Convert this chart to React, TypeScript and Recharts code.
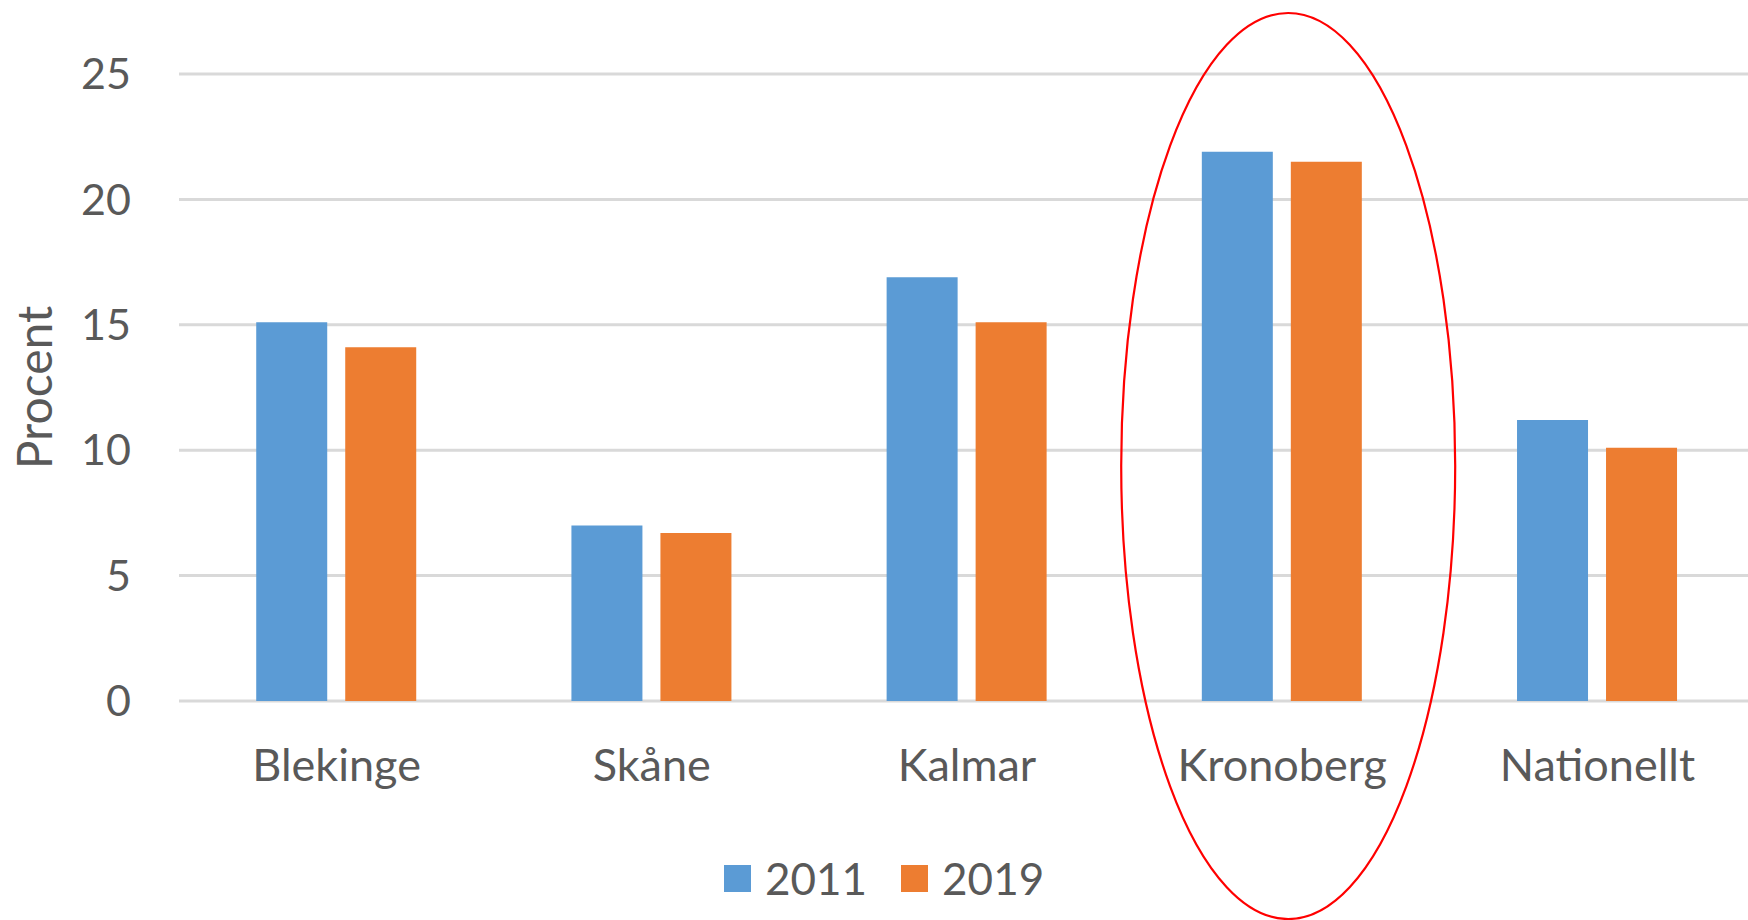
import React from 'react';
import { BarChart, Bar, XAxis, YAxis, CartesianGrid, Legend, ReferenceDot } from 'recharts';

const categories = ['Blekinge', 'Skåne', 'Kalmar', 'Kronoberg', 'Nationellt'];
const values2011 = [15.1, 7.0, 16.9, 21.9, 11.2];
const values2019 = [14.1, 6.7, 15.1, 21.5, 10.1];
const yTicks = [0, 5, 10, 15, 20, 25];
const seriesNames = ['2011', '2019'];
const seriesColors = ['#5B9BD5', '#ED7D31'];
const highlighted = 'Kronoberg';
const highlightCenterValue = 9.37;

const data = categories.map((c, i) => ({ region: c, y2011: values2011[i], y2019: values2019[i] }));

const FONT = 'Lato, "Open Sans", sans-serif';
const TEXT = '#595959';

const LegendContent = () => (
  <div
    style={{
      display: 'flex',
      alignItems: 'center',
      paddingLeft: 724,
      height: 56,
      fontFamily: FONT,
      fontSize: 44,
      color: TEXT,
      lineHeight: 1,
    }}
  >
    {seriesNames.map((n, i) => (
      <div key={n} style={{ display: 'flex', alignItems: 'center', marginRight: 34 }}>
        <div style={{ width: 27, height: 27, background: seriesColors[i], marginRight: 14 }} />
        <span>{n}</span>
      </div>
    ))}
  </div>
);

const EllipseShape = (props: any) => {
  const { cx, cy } = props;
  if (cx == null || cy == null) return null;
  return <ellipse cx={cx + 6} cy={cy} rx={167} ry={453} fill="none" stroke="#FF0000" strokeWidth={2.2} />;
};

const YLabel = (props: any) => {
  const { viewBox } = props;
  const x = viewBox.x + 33;
  const y = viewBox.y + viewBox.height / 2;
  return (
    <text
      x={x}
      y={y}
      transform={`rotate(-90 ${x} ${y})`}
      textAnchor="middle"
      dominantBaseline="central"
      fill={TEXT}
      fontSize={48}
      fontFamily={FONT}
    >
      Procent
    </text>
  );
};

export default function App() {
  return (
    <div
      style={{
        position: 'absolute',
        left: 0,
        top: 0,
        width: 1748,
        height: 920,
        overflow: 'hidden',
        background: '#fff',
        fontFamily: FONT,
      }}
    >
      <BarChart
        width={1755}
        height={920}
        data={data}
        margin={{ top: 74, right: 0, bottom: 0, left: 0 }}
        barCategoryGap="24.5%"
        barGap={18}
      >
        <CartesianGrid vertical={false} stroke="#D9D9D9" strokeWidth={3} />
        <XAxis
          dataKey="region"
          axisLine={false}
          tickLine={false}
          tickSize={0}
          tickMargin={48}
          height={163}
          interval={0}
          tick={{ fill: TEXT, fontSize: 45, fontFamily: FONT }}
        />
        <YAxis
          domain={[0, 25]}
          ticks={yTicks}
          width={179}
          axisLine={false}
          tickLine={false}
          tickSize={0}
          tickMargin={48}
          tick={{ fill: TEXT, fontSize: 43, fontFamily: FONT }}
          label={<YLabel />}
        />
        <Legend
          verticalAlign="bottom"
          content={<LegendContent />}
          wrapperStyle={{ left: 0, top: 850, width: 1748, height: 56 }}
        />
        <Bar dataKey="y2011" name={seriesNames[0]} fill={seriesColors[0]} isAnimationActive={false} />
        <Bar dataKey="y2019" name={seriesNames[1]} fill={seriesColors[1]} isAnimationActive={false} />
        <ReferenceDot
          x={highlighted}
          y={highlightCenterValue}
          ifOverflow="visible"
          shape={<EllipseShape />}
        />
      </BarChart>
    </div>
  );
}
